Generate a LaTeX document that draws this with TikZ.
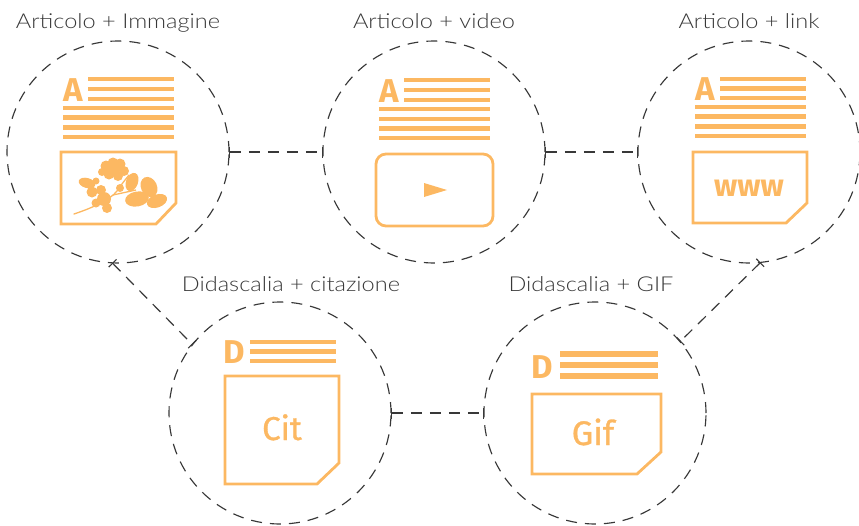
\documentclass[tikz,border=0pt]{standalone}
\usepackage{fontspec}
\setmainfont{Lato}
\newfontfamily\titlefont{Lato Light}
\newfontfamily\iconfont{Fira Sans}
\usetikzlibrary{arrows.meta}
\definecolor{ink}{HTML}{383838}
\definecolor{accent}{HTML}{FCB862}
\newcommand\widetitle[1]{\scalebox{1.15}[1]{#1}}
\begin{document}
\begin{tikzpicture}[x=1pt,y=-1pt,
  ring/.style={circle,draw=ink,line width=1.15pt,dash pattern=on 11pt off 8pt,
    minimum size=222pt,inner sep=0pt,outer sep=0pt},
  link/.style={draw=ink,line width=1.15pt,dash pattern=on 11pt off 8pt,
    {Bar[width=11pt,line width=1.15pt]}-{Bar[width=11pt,line width=1.15pt]}},
  title/.style={font=\titlefont\fontsize{20.5}{22}\selectfont,text=ink,inner sep=0pt,anchor=base},
  frame/.style={draw=accent,line width=2.8pt,line join=miter},
  glyph/.style={font=\iconfont\bfseries\fontsize{33}{36}\selectfont,text=accent,inner sep=0pt,anchor=base},
  word/.style={glyph,font=\iconfont\addfontfeatures{FakeBold=1}\fontsize{33}{36}\selectfont}
]
\useasboundingbox (0,0) rectangle (859,525);

% text line bars: \bars{x1}{x2}{list of y}{thickness}
\newcommand\bars[4]{\foreach \yy in {#3}{\fill[accent] (#1,\yy-#4/2) rectangle (#2,\yy+#4/2);}}

% --- circles ---
\node[ring] (c1) at (118,152) {};
\node[ring] (c2) at (434,152) {};
\node[ring] (c3) at (749,152) {};
\node[ring] (c4) at (280,413) {};
\node[ring] (c5) at (595,413) {};

% --- titles ---
\node[title] (t1) at (118,28) {\widetitle{Articolo + Immagine}};
\node[title] (t2) at (434,28) {\widetitle{Articolo + video}};
\node[title] (t3) at (749,28) {\widetitle{Articolo + link}};
\node[title] (t4) at (291,291) {\widetitle{Didascalia + citazione}};
\node[title] (t5) at (591,291) {\widetitle{Didascalia + GIF}};

% --- connectors ---
\draw[link] (c1.east) -- (c2.west);
\draw[link] (c2.east) -- (c3.west);
\draw[link] (c4.east) -- (c5.west);
\draw[link] (c1.267) -- (c4.142);
\draw[link] (c3.276) -- (c5.40);

% --- article + image ---
\node[glyph] (a1) at (73,101) {A};
\bars{88}{174}{79,89,99}{4.6}
\bars{63}{174}{108,117.7,127.3,137}{4.6}
\draw[frame] (61,152) -- (176,152) -- (176,203) -- (156,224) -- (61,224) -- cycle;
% flowering sprig
\begin{scope}[fill=accent]
  \draw[accent,line width=1.3pt,line cap=round] (74,214) .. controls (92,208) and (110,200) .. (117,191)
    .. controls (121,185) and (125,180) .. (129,175);
  \draw[accent,line width=1.3pt] (113,195) -- (136,190);
  % blossom cluster
  \fill (106,166) circle (5.5);
  \fill (113,163) circle (5.5);
  \fill (120,164) circle (5.5);
  \fill (124,171) circle (5);
  \fill (118,176) circle (5);
  \fill (109,174) circle (5.5);
  \fill (102,172) circle (4);
  \fill (114,170) circle (6);
  % left leaf
  \fill[rotate around={-15:(87,183)}] (87,183) ellipse (8.5 and 5);
  \fill (96,181) circle (3.5);
  % lower cluster
  \fill (92,192) circle (5.5);
  \fill (101,190) circle (5);
  \fill (104,199) circle (7);
  \fill (96,203) circle (4.5);
  \fill (107,208) circle (5);
  \fill (120,188) circle (4);
  % right leaves
  \fill[rotate around={-20:(132,182)}] (132,182) ellipse (6 and 9.5);
  \fill[rotate around={25:(149,187)}] (149,187) ellipse (8 and 10.5);
  \fill[rotate around={10:(137,199)}] (137,199) ellipse (12 and 7.5);
  \fill[rotate around={20:(157,201)}] (157,201) ellipse (10.5 and 6.5);
\end{scope}

% --- article + video ---
\node[glyph] (a2) at (389,102) {A};
\bars{404}{490}{80,90,100}{4.6}
\bars{379}{490}{109,119,128.7,138}{4.6}
\draw[frame,rounded corners=10pt] (376,154) rectangle (493,226);
\fill[accent] (424,183) -- (447,190) -- (424,197) -- cycle;

% --- article + link ---
\node[glyph] (a3) at (705,100) {A};
\bars{720}{806}{79,88.5,98}{4.6}
\bars{695}{806}{107,116.7,126.3,136}{4.6}
\draw[frame] (693,152) -- (807,152) -- (807,203) -- (786,223) -- (693,223) -- cycle;
\node[glyph,font=\iconfont\bfseries\fontsize{31}{32}\selectfont] (w3) at (749,196) {www};

% --- caption + quote ---
\node[glyph] (d4) at (234,363) {D};
\bars{250}{336}{342,351.5,361}{4.6}
\draw[frame] (225,376) -- (339,376) -- (339,463) -- (317,484) -- (225,484) -- cycle;
\node[word] (q4) at (282,440) {Cit};

% --- caption + GIF ---
\node[glyph] (d5) at (542,378) {D};
\bars{560}{658}{354,365,376}{5.5}
\draw[frame] (532,394) -- (661,394) -- (661,452) -- (637,474) -- (532,474) -- cycle;
\node[word,font=\iconfont\addfontfeatures{FakeBold=1}\fontsize{34}{36}\selectfont] (g5) at (593,445) {Gif};
\end{tikzpicture}
\end{document}
